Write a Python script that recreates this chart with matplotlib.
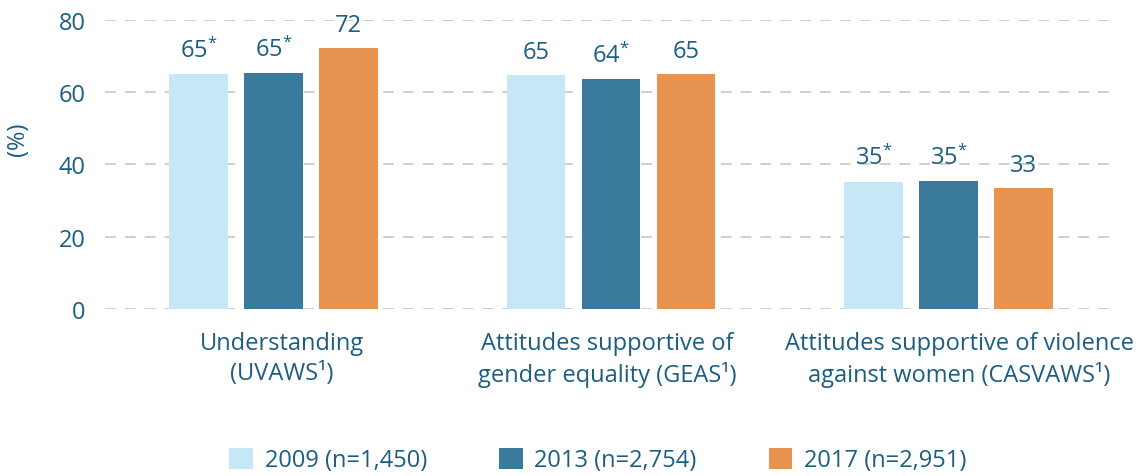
import numpy as np
import matplotlib
matplotlib.use('Agg')
import matplotlib.pyplot as plt
import matplotlib.transforms as mtransforms
from matplotlib.patches import Patch

# survey results by measure and wave
categories = ['Understanding\n(UVAWS\u00b9)',
              'Attitudes supportive of\ngender equality (GEAS\u00b9)',
              'Attitudes supportive of violence\nagainst women (CASVAWS\u00b9)']
waves = ['2009 (n=1,450)', '2013 (n=2,754)', '2017 (n=2,951)']
values_2009 = [64.9, 64.6, 35.2]
values_2013 = [65.3, 63.6, 35.3]
values_2017 = [72.2, 65.0, 33.4]
# * marks a significant difference from 2017
signif_2009 = [True, False, True]
signif_2013 = [True, True, True]
signif_2017 = [False, False, False]

colors = ['#C5E8F7', '#3A7A9C', '#E99350']
text_col = '#1B5E82'

plt.rcParams['font.family'] = ['Open Sans', 'DejaVu Sans']
plt.rcParams['font.size'] = 17

fig = plt.figure(figsize=(11.41, 4.77), dpi=100)
ax = fig.add_axes([0.092, 0.350, 0.887, 0.6066])

x = np.arange(len(categories))
width = 0.1735
step = 0.2224
series = [values_2009, values_2013, values_2017]
signif = [signif_2009, signif_2013, signif_2017]

for i, (vals, sig) in enumerate(zip(series, signif)):
    pos = x + (i - 1) * step
    ax.bar(pos, vals, width=width, color=colors[i], zorder=2)
    for px, v, s in zip(pos, vals, sig):
        lab = '%.0f' % v
        if s:
            lab = r'$\mathregular{' + lab + r'^{*}}$'
        ax.annotate(lab, (px, v), xytext=(0, 12.5), textcoords='offset points',
                    ha='center', va='baseline', color=text_col, fontsize=17)

ax.set_xlim(-0.5, 2.5)
ax.set_ylim(0, 80)
ax.set_yticks([0, 20, 40, 60, 80])
ax.set_xticks(x)
ax.set_xticklabels(categories, linespacing=1.3)
ax.tick_params(axis='both', length=0, colors=text_col, labelsize=17)
ax.tick_params(axis='x', pad=16)
ax.tick_params(axis='y', pad=14)

# nudge the category labels sideways a little
shifts = [8, -4, 11]
for lbl, dx in zip(ax.get_xticklabels(), shifts):
    off = mtransforms.ScaledTranslation(dx / 100, 0, fig.dpi_scale_trans)
    lbl.set_transform(lbl.get_transform() + off)

ax.yaxis.grid(True, color='#CCCCCC', linestyle=(0, (6, 5)), linewidth=1.3, zorder=0)
ax.set_axisbelow(True)
for sp in ax.spines.values():
    sp.set_visible(False)

ax.set_ylabel('(%)', color=text_col, fontsize=17)
ax.yaxis.set_label_coords(-0.074, 0.59)

handles = [Patch(facecolor=c, edgecolor='none') for c in colors]
leg = ax.legend(handles, waves, loc='center', bbox_to_anchor=(0.487, -0.522),
                ncol=3, frameon=False, fontsize=17, handlelength=1.0,
                handleheight=1.0, handletextpad=0.5, columnspacing=3.05)
for t in leg.get_texts():
    t.set_color(text_col)

plt.savefig('out.png', dpi=100, facecolor='w')
plt.close()
